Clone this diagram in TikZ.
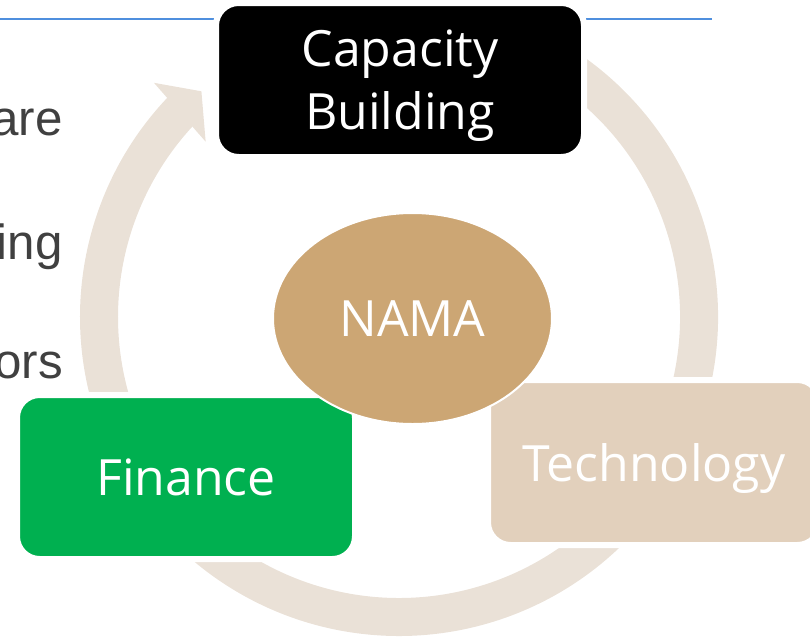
\documentclass[tikz,border=0pt]{standalone}
\usepackage{xcolor}
\usepackage{fontspec}
\setmainfont{Open Sans}
\newfontfamily\slidefont{Liberation Sans}
\usepackage{tikz}
\usetikzlibrary{shapes.geometric,calc}

\definecolor{ringbeige}{RGB}{234,225,215}
\definecolor{techtan}{RGB}{226,208,188}
\definecolor{namatan}{RGB}{204,166,116}
\definecolor{fingreen}{RGB}{0,176,80}
\definecolor{ruleblue}{RGB}{79,143,222}
\definecolor{slidegray}{RGB}{64,64,64}

\tikzset{
  cyclefont/.style={text=white, text depth=0pt, font=\fontsize{37.5}{47.25}\selectfont},
  cyclebox/.style={cyclefont, rectangle, rounded corners=17pt, draw=white, line width=4.5pt, align=center, inner sep=0pt},
  cyclearc/.style={draw=ringbeige, line width=28.5pt},
  slidetext/.style={anchor=base east, inner sep=0pt, text=slidegray, font=\slidefont\fontsize{37}{44}\selectfont}
}

\begin{document}
\begin{tikzpicture}[x=0.75pt,y=0.75pt,yscale=-1,xscale=1]
        \useasboundingbox (0,0) rectangle (810,636);
        \coordinate (ctr) at (399,317);

        % rule under the slide title
        \coordinate (ruleL) at (0,19);
        \coordinate (ruleR) at (712,19);
        \draw [ruleblue, line width=1.8pt] (ruleL) -- (ruleR);

        % ring of arrows, clockwise
        \draw [cyclearc] ($(ctr)+(160:300)$) arc [start angle=160, end angle=224, radius=300];
        \fill [ringbeige] ($(ctr)+(223.7:339)$) -- ($(ctr)+(228.8:300)$) -- ($(ctr)+(222.2:261)$) -- cycle;

        \draw [cyclearc] ($(ctr)+(290:300)$) arc [start angle=290, end angle=379, radius=300];
        \fill [ringbeige] ($(ctr)+(18.5:339)$) -- ($(ctr)+(24:300)$) -- ($(ctr)+(17.5:261)$) -- cycle;

        \draw [cyclearc] ($(ctr)+(40:300)$) arc [start angle=40, end angle=147, radius=300];
        \fill [ringbeige] ($(ctr)+(146.5:339)$) -- ($(ctr)+(152:300)$) -- ($(ctr)+(145.5:261)$) -- cycle;

        % the three boxes and the centre
        \node [cyclebox, fill=black, minimum width=276pt, minimum height=115.5pt] (capbuild) at (400,80) {Capacity\\Building};
        \node [cyclebox, fill=techtan, minimum width=249pt, minimum height=123.75pt] (tech) at (654,462.5) {Technology};
        \node [cyclebox, fill=fingreen, minimum width=253.5pt, minimum height=123pt] (fin) at (186,477) {Finance};
        \node [cyclefont, ellipse, fill=namatan, draw=white, line width=1.5pt, inner sep=0pt, minimum width=209.25pt, minimum height=158.25pt] (nama) at (412.5,318.5) {NAMA};

        % slide text left of the diagram
        \node [slidetext] (wordA) at (63,135) {are};
        \node [slidetext] (wordB) at (63,259) {ing};
        \node [slidetext] (wordC) at (63,378) {ors};
\end{tikzpicture}
\end{document}
